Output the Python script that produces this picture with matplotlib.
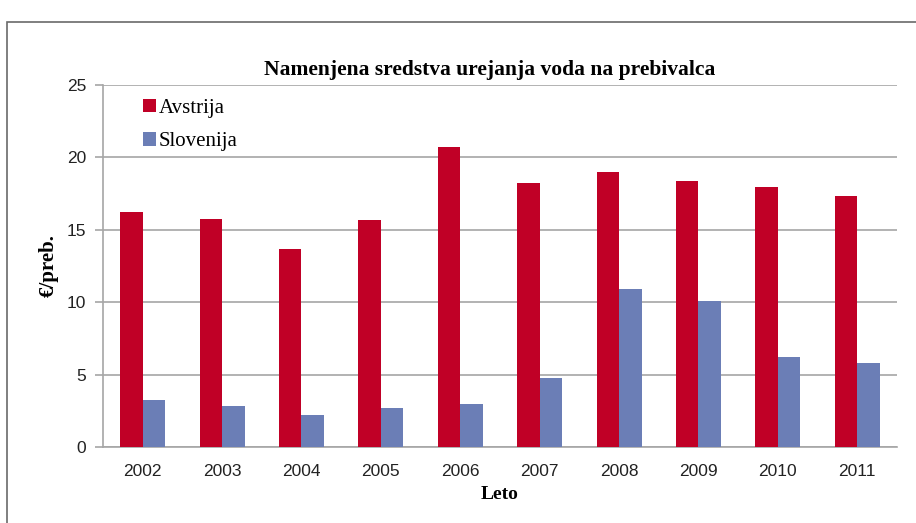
import matplotlib.pyplot as plt
import numpy as np
from matplotlib.patches import Rectangle
from matplotlib.font_manager import FontProperties

years = ['2002', '2003', '2004', '2005', '2006', '2007', '2008', '2009', '2010', '2011']
avstrija = [16.2, 15.75, 13.7, 15.7, 20.7, 18.25, 19.0, 18.35, 17.95, 17.35]
slovenija = [3.25, 2.8, 2.2, 2.7, 3.0, 4.75, 10.9, 10.1, 6.2, 5.8]

serif = 'Liberation Serif'
sans = 'Liberation Sans'

fig = plt.figure(figsize=(9.16, 5.23), dpi=100)
ax = fig.add_axes([0.1124, 0.1453, 0.8668, 0.6922])

# outer frame of the chart
fig.patches.append(Rectangle((7 / 916, -0.05), 1.1, 1.05 - 23 / 523 + 0.001,
                             transform=fig.transFigure, fill=False,
                             edgecolor='#6a6a6a', linewidth=1.2))

x = np.arange(len(years))
w = 0.283
ax.bar(x - w / 2, avstrija, w, color='#C00026', label='Avstrija', zorder=3)
ax.bar(x + w / 2, slovenija, w, color='#6B7EB6', label='Slovenija', zorder=3)

ax.set_xlim(-0.5, len(years) - 0.5)
ax.set_ylim(0, 25)
ax.set_yticks([0, 5, 10, 15, 20, 25])
ax.set_xticks(x)
ax.set_xticklabels(years)
ax.yaxis.grid(True, color='#a6a6a6', linewidth=1.2, zorder=0)
for s in ['top', 'right']:
    ax.spines[s].set_visible(False)
for s in ['left', 'bottom']:
    ax.spines[s].set_color('#a6a6a6')
    ax.spines[s].set_linewidth(1.2)
ax.tick_params(axis='y', length=6, color='#a6a6a6', width=1.2, pad=6)
ax.tick_params(axis='x', length=0, pad=12)
for lab in ax.get_xticklabels() + ax.get_yticklabels():
    lab.set_fontfamily(sans)
    lab.set_fontsize(12.5)
    lab.set_color('#222222')

fig.text(490 / 916, 1 - 70 / 523, 'Namenjena sredstva urejanja voda na prebivalca',
         fontfamily=serif, fontweight='bold', fontsize=15.5, ha='center', va='center')
ax.set_ylabel('€/preb.', fontfamily=serif, fontweight='bold', fontsize=15, labelpad=6)
ax.set_xlabel('Leto', fontfamily=serif, fontweight='bold', fontsize=14, labelpad=5)

leg = ax.legend(loc='upper left', bbox_to_anchor=(0.04, 0.985), frameon=False,
                prop=FontProperties(family=[serif, 'DejaVu Serif'], size=15),
                handlelength=0.6, handleheight=0.6,
                handletextpad=0.15, labelspacing=0.7, borderaxespad=0)

plt.savefig('out.png', dpi=100)
